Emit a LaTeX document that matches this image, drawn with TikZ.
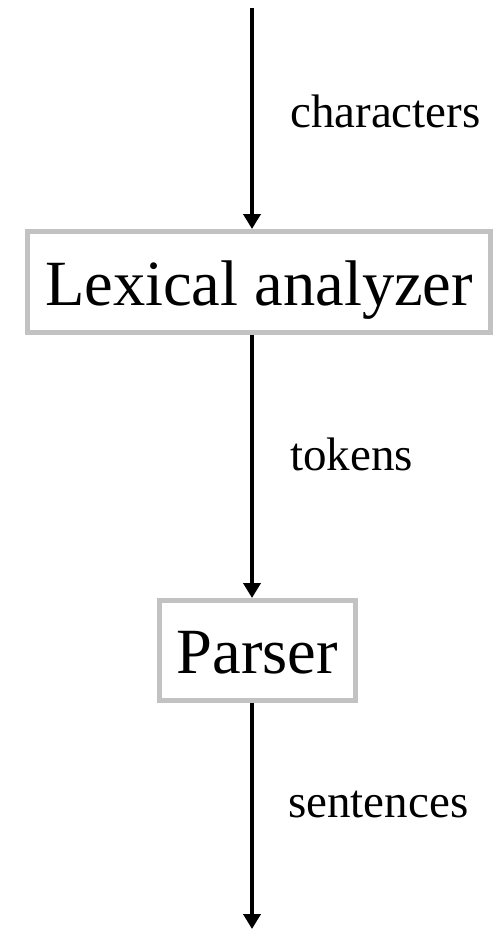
\documentclass[tikz,border=0pt]{standalone}
\usepackage{fontspec}
\setmainfont{Liberation Serif}
\usetikzlibrary{arrows.meta}
\begin{document}
\begin{tikzpicture}[x=1pt,y=-1pt,
  box/.style={draw=black!24, line width=5pt, inner sep=0pt,
    font=\fontsize{64.5}{72}\selectfont, text height=50pt, text depth=4pt},
  lbl/.style={anchor=base west, inner sep=0pt, font=\fontsize{47}{54}\selectfont},
  arr/.style={line width=4.5pt, -{Triangle[length=15pt,width=17pt]}}]
\useasboundingbox (0,0) rectangle (495,931);
\node[box, minimum width=463pt, minimum height=101pt] (lex) at (259,282) {Lexical analyzer};
\node[box, minimum width=196pt, minimum height=100pt] (par) at (257.5,650.5) {Parser};
\coordinate (top) at (252,8);
\coordinate (bot) at (252,929);
\draw[arr] (top) -- (top |- lex.north);
\draw[arr] (lex.south -| top) -- (par.north -| top);
\draw[arr] (par.south -| top) -- (bot);
\node[lbl] (lc) at (290,128) {characters};
\node[lbl] (lt) at (290,470) {tokens};
\node[lbl] (ls) at (288,817) {sentences};
\end{tikzpicture}
\end{document}
